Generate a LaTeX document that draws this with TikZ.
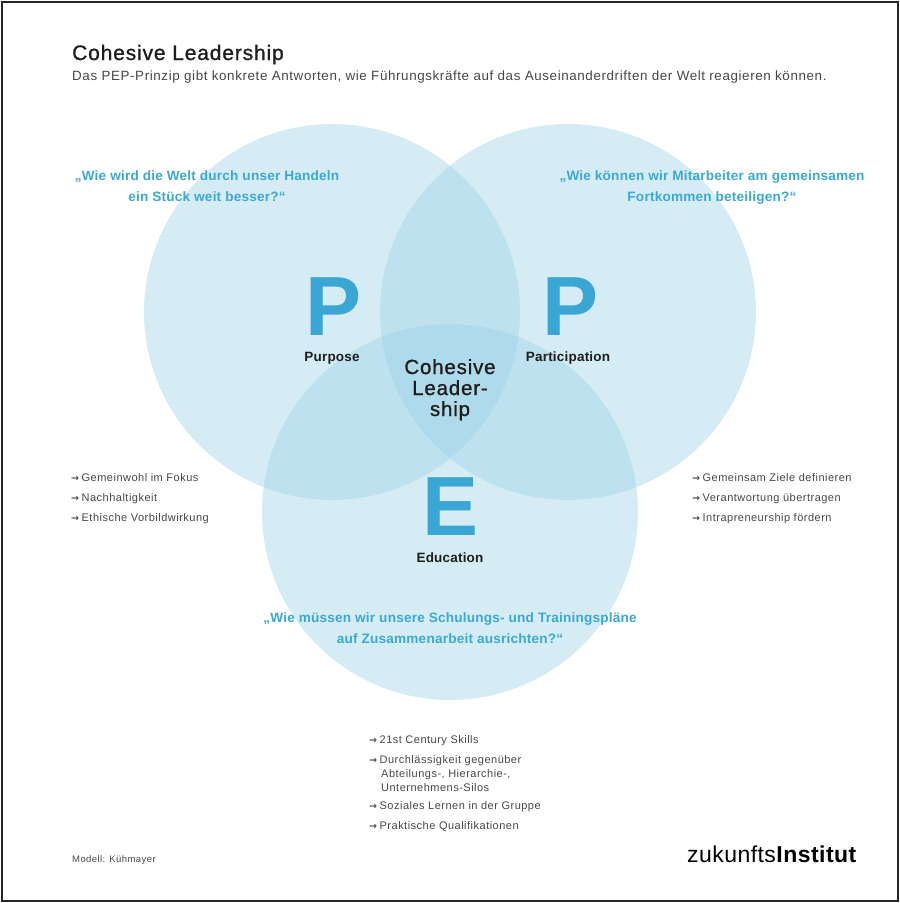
\documentclass[tikz,border=0pt]{standalone}
\usepackage{fontspec}
\setmainfont{Liberation Sans}
\newfontfamily\spaced[LetterSpace=4.5]{Liberation Sans}
\newfontfamily\heavyspaced[LetterSpace=4,FakeBold=1]{Liberation Sans}
\newfontfamily\quotefont[LetterSpace=1.5]{Liberation Sans}
\newfontfamily\logofont[LetterSpace=2]{Liberation Sans}
\newfontfamily\arrowfont{DejaVu Sans}
\newcommand{\arr}{{\arrowfont\bfseries\fontsize{9.5}{12}\selectfont →}\hspace{2.5pt}}
\definecolor{circfill}{RGB}{153,208,230}
\definecolor{qblue}{RGB}{58,168,213}
\definecolor{bigblue}{RGB}{58,166,211}
\definecolor{darktxt}{RGB}{30,30,30}
\definecolor{graytxt}{RGB}{70,70,70}
\begin{document}
\begin{tikzpicture}[x=1pt,y=-1pt,
  venn/.style={circle, fill=circfill, fill opacity=0.4, minimum size=376pt, inner sep=0pt},
  quote/.style={anchor=base, inner sep=0pt, text=qblue, font=\quotefont\fontsize{13.6}{16}\selectfont\bfseries},
  bigletter/.style={anchor=base, inner sep=0pt, text=bigblue, font=\fontsize{84}{90}\selectfont\bfseries},
  label/.style={anchor=base, inner sep=0pt, text=darktxt, font=\quotefont\fontsize{13.5}{16}\selectfont\bfseries},
  center/.style={anchor=base, inner sep=0pt, text=darktxt, font=\heavyspaced\fontsize{20.5}{22}\selectfont},
  item/.style={anchor=base west, inner sep=0pt, text=graytxt, font=\spaced\fontsize{11}{13}\selectfont},
]
\useasboundingbox (0,0) rectangle (900,903);
\draw[line width=2pt, black!85] (1.5,1.5) rectangle (898,901);

% Title
\node[anchor=base west, inner sep=0pt, text=darktxt, font=\heavyspaced\fontsize{21}{24}\selectfont] (title) at (72,60) {Cohesive Leadership};
\node[anchor=base west, inner sep=0pt, text=graytxt, font=\spaced\fontsize{13.4}{16}\selectfont] (subtitle) at (72,80) {Das PEP-Prinzip gibt konkrete Antworten, wie Führungskräfte auf das Auseinanderdriften der Welt reagieren können.};

% Circles
\node[venn] (purpose) at (332,312) {};
\node[venn] (participation) at (568,312) {};
\node[venn] (education) at (450,512) {};

% Quotes
\node[quote] (q1a) at (207,180) {„Wie wird die Welt durch unser Handeln};
\node[quote] (q1b) at (207,201) {ein Stück weit besser?“};
\node[quote] (q2a) at (712,180) {„Wie können wir Mitarbeiter am gemeinsamen};
\node[quote] (q2b) at (712,201) {Fortkommen beteiligen?“};
\node[quote] (q3a) at (450,622) {„Wie müssen wir unsere Schulungs- und Trainingspläne};
\node[quote] (q3b) at (450,643) {auf Zusammenarbeit ausrichten?“};

% Big letters
\node[bigletter] (P1) at (334,335) {P};
\node[bigletter] (P2) at (571,335) {P};
\node[bigletter] (E) at (451,535) {E};

% Labels
\node[label] (lpurpose) at (332,361) {Purpose};
\node[label] (lparticipation) at (568,361) {Participation};
\node[label] (leducation) at (450,562) {Education};

% Centre
\node[center] (c1) at (450,374) {Cohesive};
\node[center] (c2) at (450,395) {Leader-};
\node[center] (c3) at (450,416) {ship};

% Lists
\node[item] (a1) at (71,481) {\arr Gemeinwohl im Fokus};
\node[item] (a2) at (71,501) {\arr Nachhaltigkeit};
\node[item] (a3) at (71,521) {\arr Ethische Vorbildwirkung};

\node[item] (b1) at (692,481) {\arr Gemeinsam Ziele definieren};
\node[item] (b2) at (692,501) {\arr Verantwortung übertragen};
\node[item] (b3) at (692,521) {\arr Intrapreneurship fördern};

\node[item] (e1) at (369,743) {\arr 21st Century Skills};
\node[item] (e2) at (369,763) {\arr Durchlässigkeit gegenüber};
\node[item] (e2b) at (381,777) {Abteilungs-, Hierarchie-,};
\node[item] (e2c) at (381,791) {Unternehmens-Silos};
\node[item] (e3) at (369,809) {\arr Soziales Lernen in der Gruppe};
\node[item] (e4) at (369,829) {\arr Praktische Qualifikationen};

% Footer
\node[anchor=base west, inner sep=0pt, text=graytxt, font=\spaced\fontsize{9.5}{11}\selectfont] (model) at (72,862) {Modell: Kühmayer};
\node[anchor=base east, inner sep=0pt, text=black, font=\logofont\fontsize{23}{26}\selectfont] (logo) at (857,862) {zukunfts\textbf{Institut}};
\end{tikzpicture}
\end{document}
